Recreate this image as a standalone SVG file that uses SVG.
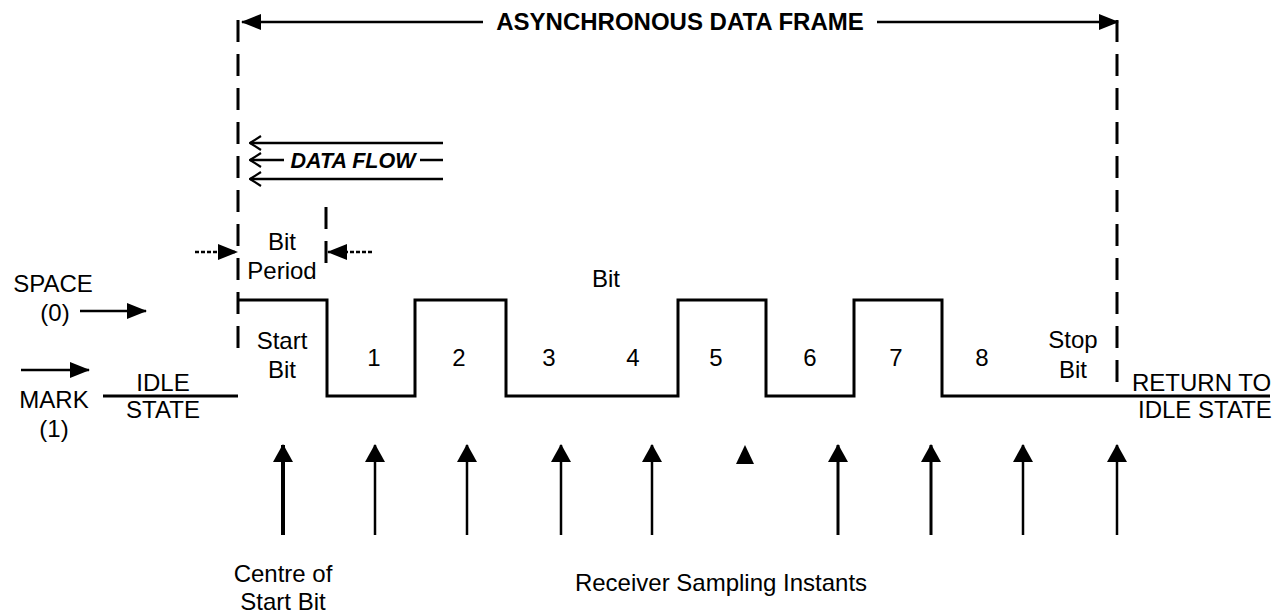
<svg xmlns="http://www.w3.org/2000/svg" width="1275" height="614" viewBox="0 0 1275 614">
<style>
text{font-family:"Liberation Sans",Arial,sans-serif;font-size:24px;fill:#000}
.c{text-anchor:middle}
.b{font-weight:bold}
.sig{fill:none;stroke:#000;stroke-width:3}
.ln{stroke:#000;stroke-width:2.5;fill:none}
.dash{stroke:#000;stroke-width:3;stroke-dasharray:22 12;fill:none}
.head{fill:#000}
</style>
<defs>
<marker id="tri" viewBox="0 0 20 16" refX="19" refY="8" markerWidth="20" markerHeight="16" markerUnits="userSpaceOnUse" orient="auto">
<path d="M0,0 L20,8 L0,16 Z" fill="#000"/>
</marker>
<marker id="tris" viewBox="0 0 18 20" refX="17" refY="10" markerWidth="18" markerHeight="20" markerUnits="userSpaceOnUse" orient="auto">
<path d="M0,0 L18,10 L0,20 Z" fill="#000"/>
</marker>
<marker id="open" viewBox="0 0 13 16" refX="12" refY="8" markerWidth="13" markerHeight="16" markerUnits="userSpaceOnUse" orient="auto">
<path d="M1,1 L12,8 L1,15" fill="none" stroke="#000" stroke-width="2.2"/>
</marker>
</defs>

<g id="frame">
<line class="dash" x1="238" y1="20" x2="238" y2="352"/>
<line class="dash" x1="1117" y1="20" x2="1117" y2="394"/>
<line class="ln" x1="483" y1="22" x2="242" y2="22" marker-end="url(#tri)"/>
<line class="ln" x1="877" y1="22" x2="1118" y2="22" marker-end="url(#tri)"/>
<text class="b c" x="680" y="30">ASYNCHRONOUS DATA FRAME</text>
</g>

<g id="dataflow">
<line class="ln" x1="443" y1="143" x2="250" y2="143" marker-end="url(#open)"/>
<line class="ln" x1="284" y1="160" x2="250" y2="160" marker-end="url(#open)"/>
<line class="ln" x1="443" y1="160" x2="420" y2="160"/>
<line class="ln" x1="443" y1="179" x2="250" y2="179" marker-end="url(#open)"/>
<text class="b c" x="353" y="168" style="font-style:italic;font-size:21.5px">DATA FLOW</text>
</g>

<g id="bitperiod">
<line class="dash" x1="326" y1="207" x2="326" y2="268"/>
<line class="ln" x1="195" y1="252" x2="237" y2="252" marker-end="url(#tri)" style="stroke-dasharray:4 2"/>
<line class="ln" x1="372" y1="252" x2="328" y2="252" marker-end="url(#tri)" style="stroke-dasharray:4 2"/>
<text class="c" x="282" y="250">Bit</text>
<text class="c" x="282" y="279">Period</text>
</g>

<g id="levels">
<text class="c" x="53" y="292">SPACE</text>
<text class="c" x="55" y="321">(0)</text>
<line class="ln" x1="80" y1="311" x2="146" y2="311" marker-end="url(#tri)"/>
<line class="ln" x1="21" y1="370" x2="89" y2="370" marker-end="url(#tri)"/>
<text class="c" x="54" y="408">MARK</text>
<text class="c" x="54" y="437">(1)</text>
<text class="c" x="163" y="391">IDLE</text>
<text class="c" x="163" y="418">STATE</text>
<text x="1132" y="391">RETURN TO</text>
<text x="1138" y="418">IDLE STATE</text>
</g>

<g id="signal">
<polyline class="sig" points="103,396 238,396"/>
<polyline class="sig" points="238,300 327,300 327,396 415,396 415,300 506,300 506,396 678,396 678,300 766,300 766,396 854,396 854,300 942,300 942,396 1270,396"/>
</g>

<g id="bitlabels">
<text class="c" x="282" y="349">Start</text>
<text class="c" x="282" y="378">Bit</text>
<text class="c" x="374" y="366">1</text>
<text class="c" x="459" y="366">2</text>
<text class="c" x="549" y="366">3</text>
<text class="c" x="633" y="366">4</text>
<text class="c" x="716" y="366">5</text>
<text class="c" x="810" y="366">6</text>
<text class="c" x="896" y="366">7</text>
<text class="c" x="982" y="366">8</text>
<text class="c" x="1073" y="348">Stop</text>
<text class="c" x="1073" y="378">Bit</text>
<text class="c" x="606" y="287">Bit</text>
</g>

<g id="sampling">
<line x1="283" y1="535" x2="283" y2="445" stroke="#000" stroke-width="4" marker-end="url(#tris)"/>
<line class="ln" x1="375" y1="535" x2="375" y2="445" marker-end="url(#tris)"/>
<line class="ln" x1="467" y1="535" x2="467" y2="445" marker-end="url(#tris)"/>
<line class="ln" x1="561" y1="535" x2="561" y2="445" marker-end="url(#tris)"/>
<line class="ln" x1="652" y1="535" x2="652" y2="445" marker-end="url(#tris)"/>
<path class="head" d="M745,445 L754,464 L736,464 Z"/>
<line x1="838" y1="535" x2="838" y2="445" stroke="#000" stroke-width="3" marker-end="url(#tris)"/>
<line x1="931" y1="535" x2="931" y2="445" stroke="#000" stroke-width="3" marker-end="url(#tris)"/>
<line class="ln" x1="1023" y1="535" x2="1023" y2="445" marker-end="url(#tris)"/>
<line class="ln" x1="1117" y1="535" x2="1117" y2="445" marker-end="url(#tris)"/>
<text class="c" x="283" y="582">Centre of</text>
<text class="c" x="283" y="610">Start Bit</text>
<text class="c" x="721" y="591">Receiver Sampling Instants</text>
</g>
</svg>
